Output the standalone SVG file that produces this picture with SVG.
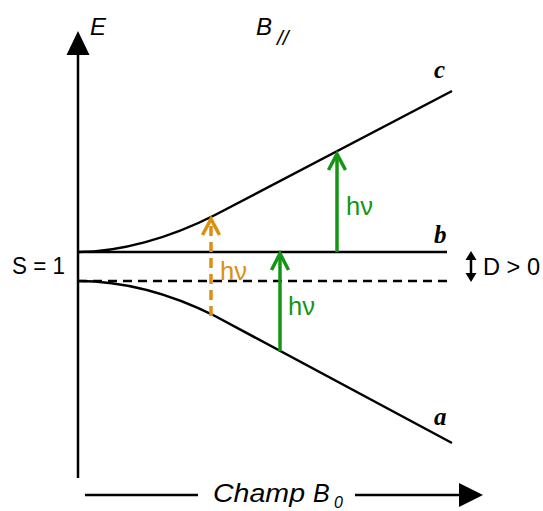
<svg xmlns="http://www.w3.org/2000/svg" width="543" height="511" viewBox="0 0 543 511">
<style>
.ln{fill:none;stroke:#000;stroke-width:2.5}
.sans{font-family:"Liberation Sans","DejaVu Sans",sans-serif}
.lvl{font-family:"Liberation Serif","Times New Roman",serif;font-weight:bold;font-style:italic;font-size:25px}
.grn{fill:none;stroke:#149614;stroke-width:3.5}
.org{fill:none;stroke:#DA9012;stroke-width:3.5}
</style>
<rect width="543" height="511" fill="#fff"/>
<g id="axes">
<line class="ln" x1="78" y1="478" x2="78" y2="50"/>
<polygon points="78,31 66.5,55 89.5,55" fill="#000"/>
<text x="90" y="35" class="sans" font-size="24" font-style="italic">E</text>
<text x="256" y="35" class="sans" font-size="24" font-style="italic">B</text>
<text x="277" y="45" class="sans" font-size="21" font-style="italic">//</text>
<line class="ln" x1="85" y1="495" x2="198" y2="495"/>
<line class="ln" x1="355" y1="495" x2="462" y2="495"/>
<polygon points="483,495 459,483 459,507" fill="#000"/>
<text x="213" y="502" class="sans" font-size="25" font-style="italic" textLength="92" lengthAdjust="spacingAndGlyphs">Champ</text>
<text x="313" y="502" class="sans" font-size="25" font-style="italic">B</text>
<text x="334" y="508" class="sans" font-size="16" font-style="italic">0</text>
</g>
<g id="level-b">
<line class="ln" x1="78" y1="252" x2="447" y2="252"/>
<text x="434" y="243" class="lvl">b</text>
</g>
<g id="level-dashed">
<line class="ln" x1="78" y1="281" x2="447" y2="281" stroke-dasharray="9,6"/>
</g>
<g id="level-c">
<path class="ln" d="M78,252 C120,252 170,238 215,215 L452,91"/>
<text x="434" y="78" class="lvl">c</text>
</g>
<g id="level-a">
<path class="ln" d="M78,281 C120,281 165,291 215,316 L452,443"/>
<text x="434" y="425" class="lvl">a</text>
</g>
<g id="S-label">
<text x="12" y="274" class="sans" font-size="24" textLength="53" lengthAdjust="spacingAndGlyphs">S = 1</text>
</g>
<g id="D-label">
<line x1="471" y1="258" x2="471" y2="275" stroke="#000" stroke-width="2.5"/>
<polygon points="471,251 465.5,260 476.5,260" fill="#000"/>
<polygon points="471,282 465.5,273 476.5,273" fill="#000"/>
<text x="483" y="275" class="sans" font-size="24" textLength="57" lengthAdjust="spacingAndGlyphs">D &gt; 0</text>
</g>
<g id="connectors">
<g id="orange-arrow">
<line class="org" x1="211" y1="316" x2="211" y2="221" stroke-dasharray="10,6"/>
<polyline class="org" points="202.5,235 211,219 219.5,235"/>
<text x="220" y="280" class="sans" font-size="25" fill="#DA9012" textLength="27" lengthAdjust="spacingAndGlyphs">hν</text>
</g>
<g id="green-arrow-1">
<line class="grn" x1="280" y1="351" x2="280" y2="255"/>
<polyline class="grn" points="271.5,270 280,253.5 288.5,270"/>
<text x="288" y="315" class="sans" font-size="25" fill="#149614" textLength="27" lengthAdjust="spacingAndGlyphs">hν</text>
</g>
<g id="green-arrow-2">
<line class="grn" x1="337" y1="252" x2="337" y2="156"/>
<polyline class="grn" points="328.5,170 337,154 345.5,170"/>
<text x="346" y="215" class="sans" font-size="25" fill="#149614" textLength="27" lengthAdjust="spacingAndGlyphs">hν</text>
</g>
</g>
</svg>
